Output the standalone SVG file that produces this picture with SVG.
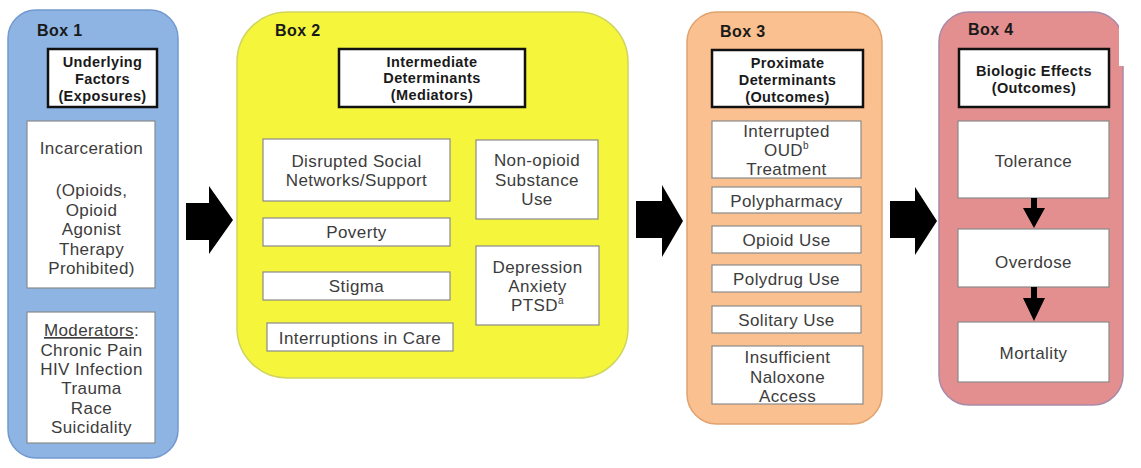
<svg xmlns="http://www.w3.org/2000/svg" width="1141" height="468" viewBox="0 0 1141 468">
<style>
text{font-family:"Liberation Sans",Arial,sans-serif;fill:#3c3c3c;text-anchor:middle;letter-spacing:0.4px}
.t{font-size:17px}
.h{font-size:14.5px;font-weight:bold;fill:#1a1a1a}
.lbl{font-size:16px;font-weight:bold;fill:#1a1a1a;text-anchor:start}
.w{fill:#fff;stroke:#8a8a8a;stroke-width:1.2}
.hd{fill:#fff;stroke:#111;stroke-width:2.5}
.arr{fill:#000}
</style>
<rect width="1141" height="468" fill="#fff"/>

<g id="box1">
<rect x="8" y="10" width="170" height="448" rx="28" fill="#8db4e3" stroke="#7399cf" stroke-width="1.5"/>
<text class="lbl" x="37" y="36">Box 1</text>
<rect class="hd" x="48" y="49" width="109" height="58"/>
<text class="h" x="102.5" y="67">Underlying</text>
<text class="h" x="102.5" y="84">Factors</text>
<text class="h" x="102.5" y="101">(Exposures)</text>
<rect class="w" x="27" y="121" width="128" height="167"/>
<text class="t" x="91.5" y="154">Incarceration</text>
<text class="t" x="91.5" y="196">(Opioids,</text>
<text class="t" x="91.5" y="216">Opioid</text>
<text class="t" x="91.5" y="235">Agonist</text>
<text class="t" x="91.5" y="255">Therapy</text>
<text class="t" x="91.5" y="274">Prohibited)</text>
<rect class="w" x="27" y="312" width="128" height="131"/>
<text class="t" x="91.5" y="336"><tspan text-decoration="underline">Moderators</tspan>:</text>
<text class="t" x="91.5" y="356">Chronic Pain</text>
<text class="t" x="91.5" y="375">HIV Infection</text>
<text class="t" x="91.5" y="394">Trauma</text>
<text class="t" x="91.5" y="414">Race</text>
<text class="t" x="91.5" y="433">Suicidality</text>
</g>

<g id="box2">
<rect x="237" y="12" width="391" height="366" rx="50" fill="#f5f53c" stroke="#cfd560" stroke-width="1.5"/>
<text class="lbl" x="275" y="36">Box 2</text>
<rect class="hd" x="339" y="49" width="186" height="58"/>
<text class="h" x="432" y="67">Intermediate</text>
<text class="h" x="432" y="83">Determinants</text>
<text class="h" x="432" y="100">(Mediators)</text>
<rect class="w" x="263" y="139" width="187" height="62"/>
<text class="t" x="356.5" y="167">Disrupted Social</text>
<text class="t" x="356.5" y="186">Networks/Support</text>
<rect class="w" x="476" y="140" width="122" height="79"/>
<text class="t" x="537" y="166">Non-opioid</text>
<text class="t" x="537" y="186">Substance</text>
<text class="t" x="537" y="205">Use</text>
<rect class="w" x="263" y="218" width="187" height="28"/>
<text class="t" x="356.5" y="238">Poverty</text>
<rect class="w" x="263" y="272" width="187" height="28"/>
<text class="t" x="356.5" y="292">Stigma</text>
<rect class="w" x="476" y="246" width="123" height="79"/>
<text class="t" x="537.5" y="273">Depression</text>
<text class="t" x="537.5" y="292">Anxiety</text>
<text class="t" x="537.5" y="311">PTSD<tspan font-size="10" dy="-7">a</tspan></text>
<rect class="w" x="267" y="323" width="186" height="28"/>
<text class="t" x="360" y="344">Interruptions in Care</text>
</g>

<g id="box3">
<rect x="687" y="12" width="195" height="412" rx="30" fill="#fac08f" stroke="#e0a26f" stroke-width="1.5"/>
<text class="lbl" x="720" y="37">Box 3</text>
<rect class="hd" x="712" y="50" width="151" height="57"/>
<text class="h" x="787.5" y="68">Proximate</text>
<text class="h" x="787.5" y="85">Determinants</text>
<text class="h" x="787.5" y="102">(Outcomes)</text>
<rect class="w" x="712" y="121" width="149" height="57"/>
<text class="t" x="786.5" y="137">Interrupted</text>
<text class="t" x="786.5" y="156">OUD<tspan font-size="10" dy="-7">b</tspan></text>
<text class="t" x="786.5" y="175">Treatment</text>
<rect class="w" x="712" y="187" width="149" height="26"/>
<text class="t" x="786.5" y="207">Polypharmacy</text>
<rect class="w" x="712" y="226" width="149" height="27"/>
<text class="t" x="786.5" y="246">Opioid Use</text>
<rect class="w" x="712" y="265" width="149" height="27"/>
<text class="t" x="786.5" y="285">Polydrug Use</text>
<rect class="w" x="712" y="306" width="149" height="27"/>
<text class="t" x="786.5" y="326">Solitary Use</text>
<rect class="w" x="712" y="346" width="151" height="58"/>
<text class="t" x="787.5" y="363">Insufficient</text>
<text class="t" x="787.5" y="383">Naloxone</text>
<text class="t" x="787.5" y="402">Access</text>
</g>

<g id="box4">
<rect x="939" y="12" width="184" height="393" rx="30" fill="#e48f8f" stroke="#a88aa8" stroke-width="1.5"/>
<text class="lbl" x="968" y="35">Box 4</text>
<rect class="hd" x="959" y="49" width="150" height="58"/>
<text class="h" x="1034" y="76">Biologic Effects</text>
<text class="h" x="1034" y="93">(Outcomes)</text>
<rect class="w" x="958" y="121" width="151" height="77"/>
<text class="t" x="1033.5" y="167">Tolerance</text>
<rect class="w" x="958" y="229" width="151" height="58"/>
<text class="t" x="1033.5" y="268">Overdose</text>
<rect class="w" x="958" y="322" width="151" height="60"/>
<text class="t" x="1033.5" y="359">Mortality</text>
</g>

<g id="connectors">
<polygon class="arr" points="186,203 209,203 209,186 233,220 209,254 209,240 186,240"/>
<polygon class="arr" points="636,201 662,201 662,185 683,221 662,257 662,238 636,238"/>
<polygon class="arr" points="890,201 915,201 915,187 937,221 915,255 915,238 890,238"/>
<polygon class="arr" points="1031,198 1037,198 1037,208 1045,208 1034,228 1023,208 1031,208"/>
<polygon class="arr" points="1031,287 1037,287 1037,298 1045,298 1034,321 1023,298 1031,298"/>
</g>

<rect x="1119" y="0" width="22" height="66" fill="#fff"/>
</svg>
